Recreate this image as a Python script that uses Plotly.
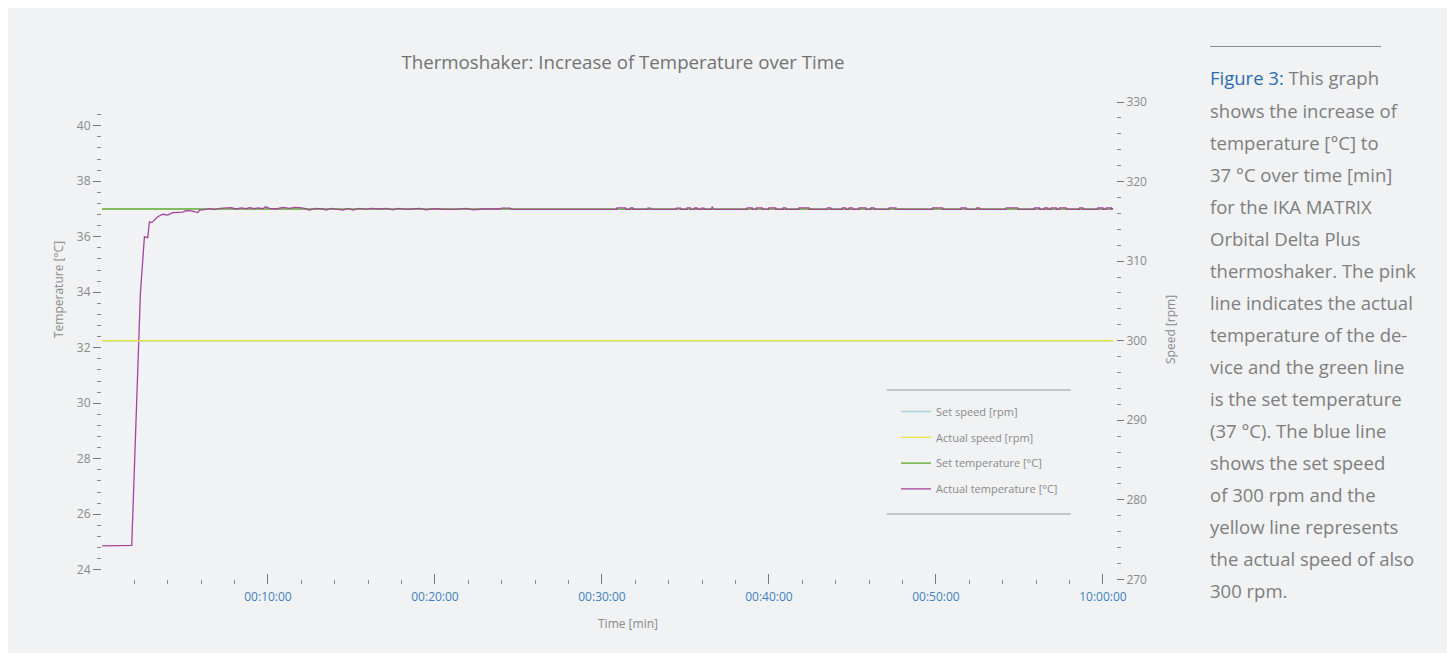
import plotly.graph_objects as go

# ---------------- data ----------------
time_ref = [0.0, 60.6]
set_speed = [300, 300]
actual_speed = [300, 300]
set_temp = [37.0, 37.0]

# actual temperature: warm-up phase
time_rise = [0.0, 1.84, 2.36, 2.6, 2.8, 2.9, 3.04, 3.4, 3.7, 4.0, 4.3, 4.9, 5.1, 5.4, 5.8,
             5.9, 6.2, 6.5, 6.8]
temp_rise = [24.86, 24.88, 33.97, 36.0, 35.97, 36.54, 36.51, 36.72, 36.81, 36.78, 36.87, 36.89,
             36.94, 36.93, 36.87, 36.96, 36.98, 37.01, 36.98]

# actual temperature: early plateau (small fluctuations)
time_early = [7.10, 7.79, 8.09, 8.39, 8.69, 8.89, 9.19, 9.39, 9.69, 9.85, 10.09, 10.49, 10.89,
              11.29, 11.59, 11.89, 12.19, 12.48, 12.88, 13.28, 13.48, 13.78, 14.08, 14.48,
              14.78, 15.08, 15.48, 15.88, 16.18, 16.68, 17.08, 17.47, 17.77, 18.27, 18.67,
              19.07, 19.47, 19.87, 20.67, 21.27, 21.87, 22.26, 22.86, 23.86, 24.0, 24.5, 24.6]
temp_early = [37.02, 37.05, 37.00, 37.04, 37.01, 37.05, 37.01, 37.04, 37.01, 37.08, 37.02, 37.00,
              37.06, 37.02, 37.06, 37.05, 37.02, 36.96, 37.02, 37.00, 36.96, 37.02, 37.00, 36.96,
              37.02, 36.96, 37.02, 36.99, 37.02, 37.00, 37.02, 36.97, 37.02, 36.99, 37.00,
              37.02, 36.97, 37.01, 36.99, 36.99, 37.02, 36.97, 37.00, 37.00, 37.03, 37.03, 36.99]

# actual temperature: late plateau (baseline with short upward steps)
time_late = [30.9, 30.9, 31.4, 31.4, 31.7, 31.7, 31.85, 31.85, 32.75, 32.75, 32.9, 32.9,
             34.45, 34.45, 34.7, 34.7, 35.1, 35.1, 35.3, 35.3, 35.55, 35.55, 35.7, 35.7,
             35.95, 35.95, 36.1, 36.1, 36.55, 36.6, 36.7, 38.7, 38.7, 39.0, 39.0, 39.25, 39.25,
             39.6, 39.6, 40.0, 40.0, 40.4, 40.4, 40.85, 40.85, 41.0, 41.0, 41.8, 41.8, 42.4, 42.4,
             43.5, 43.5, 43.7, 43.7, 44.4, 44.4, 44.6, 44.6, 44.8, 44.8, 45.0, 45.0, 45.4, 45.4,
             45.8, 45.8, 46.1, 46.1, 46.3, 46.3, 47.2, 47.2, 47.6, 47.6, 49.8, 49.8, 50.4, 50.4,
             51.5, 51.5, 51.8, 51.8, 52.45, 52.45, 52.6, 52.6, 54.2, 54.2, 54.9, 54.9, 55.9, 55.9,
             56.2, 56.2, 56.5, 56.5, 56.7, 56.7, 56.9, 56.9, 57.2, 57.2, 57.4, 57.4, 57.8, 57.8,
             58.6, 58.6, 58.8, 58.8, 59.7, 59.7, 60.0, 60.0, 60.2, 60.2, 60.5, 60.5, 60.6]
temp_late = [36.99, 37.04, 37.04, 36.99, 36.99, 37.04, 37.04, 36.99, 36.99, 37.03, 37.03, 36.99,
             36.99, 37.03, 37.03, 36.99, 36.99, 37.04, 37.04, 36.99, 36.99, 37.04, 37.04, 36.99,
             36.99, 37.03, 37.03, 36.99, 36.99, 37.08, 36.99, 36.99, 37.04, 37.04, 36.99, 36.99,
             37.04, 37.04, 36.99, 36.99, 37.04, 37.04, 36.99, 36.99, 37.04, 37.04, 36.99, 36.99,
             37.04, 37.04, 36.99, 36.99, 37.04, 37.04, 36.99, 36.99, 37.04, 37.04, 36.99, 36.99,
             37.04, 37.04, 36.99, 36.99, 37.04, 37.04, 36.99, 36.99, 37.04, 37.04, 36.99, 36.99,
             37.04, 37.04, 36.99, 36.99, 37.04, 37.04, 36.99, 36.99, 37.04, 37.04, 36.99, 36.99,
             37.04, 37.04, 36.99, 36.99, 37.04, 37.04, 36.99, 36.99, 37.04, 37.04, 36.99, 36.99,
             37.04, 37.04, 36.99, 36.99, 37.04, 37.04, 36.99, 36.99, 37.04, 37.04, 36.99, 36.99,
             37.04, 37.04, 36.99, 36.99, 37.04, 37.04, 36.99, 36.99, 37.04, 37.04, 36.99, 37.02]

time_actual = time_rise + time_early + time_late
temp_actual = temp_rise + temp_early + temp_late

x_tickvals = [10, 20, 30, 40, 50, 60]
x_ticktext = ["00:10:00", "00:20:00", "00:30:00", "00:40:00", "00:50:00", "10:00:00"]
temp_ticks = [24, 26, 28, 30, 32, 34, 36, 38, 40]
speed_ticks = [270, 280, 290, 300, 310, 320, 330]

caption_lines = [
    "<span style='color:#2b6cab'>Figure 3:</span> This graph",
    "shows the increase of",
    "temperature [°C] to",
    "37 °C over time [min]",
    "for the IKA MATRIX",
    "Orbital Delta Plus",
    "thermoshaker. The pink",
    "line indicates the actual",
    "temperature of the de-",
    "vice and the green line",
    "is the set temperature",
    "(37 °C). The blue line",
    "shows the set speed",
    "of 300 rpm and the",
    "yellow line represents",
    "the actual speed of also",
    "300 rpm.",
]

# ---------------- layout helpers (page pixel -> paper) ----------------
OFF = 8
W, H = 1439, 645
ML, MR, MT, MB = 94, 331, 94, 69
PW = W - ML - MR
PH = H - MT - MB


def px2x(px):
    return (px - OFF - ML) / PW


def px2y(py):
    return (H - MB - (py - OFF)) / PH


FONT = "Open Sans"
GREY = "#8a8a8a"
BG = "#f0f2f4"

fig = go.Figure()
fig.add_trace(go.Scatter(x=time_ref, y=set_speed, yaxis="y2", mode="lines", name="Set speed [rpm]",
                         line=dict(color="#a8d2de", width=1.5), legendgroup="a"))
fig.add_trace(go.Scatter(x=time_ref, y=actual_speed, yaxis="y2", mode="lines", name="Actual speed [rpm]",
                         line=dict(color="#e8e430", width=1.2), legendgroup="b"))
fig.add_trace(go.Scatter(x=time_ref, y=set_temp, mode="lines", name="Set temperature [°C]",
                         line=dict(color="#5eaa2c", width=1.3), legendgroup="c"))
fig.add_trace(go.Scatter(x=time_actual, y=temp_actual, mode="lines", name="Actual temperature [°C]",
                         line=dict(color="#a6449b", width=1.3), legendgroup="d"))

minor_temp = [round(24 + 0.4 * i, 1) for i in range(42)]
minor_speed = list(range(270, 331, 2))
minor_time = list(range(2, 60, 2))

annotations = [
    dict(text="Temperature [°C]", x=px2x(58), y=px2y(290), xref="paper", yref="paper",
         xanchor="center", yanchor="middle",
         textangle=-90, showarrow=False, font=dict(family=FONT, size=12, color=GREY)),
    dict(text="Speed [rpm]", x=px2x(1170), y=px2y(330), xref="paper", yref="paper",
         xanchor="center", yanchor="middle",
         textangle=-90, showarrow=False, font=dict(family=FONT, size=12, color=GREY)),
    dict(text="Time [min]", x=px2x(628), y=px2y(623), xref="paper", yref="paper",
         xanchor="center", yanchor="middle",
         showarrow=False, font=dict(family=FONT, size=12, color=GREY)),
]
for i, line in enumerate(caption_lines):
    annotations.append(dict(text=line, x=px2x(1208), y=px2y(78 + 32.05 * i), xref="paper", yref="paper",
                            xanchor="left", yanchor="middle", showarrow=False,
                            font=dict(family=FONT, size=18.5, color="#7e7e7e")))

shapes = [
    dict(type="line", xref="paper", yref="paper", x0=px2x(1210), x1=px2x(1381), y0=px2y(46.5), y1=px2y(46.5),
         line=dict(color="#8a8a8a", width=1)),
    dict(type="line", xref="paper", yref="paper", x0=px2x(887), x1=px2x(1071), y0=px2y(390), y1=px2y(390),
         line=dict(color="#9a9a9a", width=1)),
    dict(type="line", xref="paper", yref="paper", x0=px2x(887), x1=px2x(1071), y0=px2y(514), y1=px2y(514),
         line=dict(color="#9a9a9a", width=1)),
]

ydom0 = px2y(579.3)

fig.update_layout(
    width=W, height=H,
    margin=dict(l=ML, r=MR, t=MT, b=MB),
    paper_bgcolor=BG, plot_bgcolor=BG,
    font=dict(family=FONT, color=GREY, size=12),
    title=dict(text="Thermoshaker: Increase of Temperature over Time", x=px2x(623), xref="paper",
               xanchor="center", y=1 - (62 - OFF) / H, yref="container", yanchor="middle",
               font=dict(family=FONT, size=18.7, color="#727272")),
    xaxis=dict(range=[0.06, 60.78], anchor="free", position=0, showgrid=False, zeroline=False,
               showline=False, tickmode="array", tickvals=x_tickvals, ticktext=x_ticktext,
               ticks="inside", ticklen=10, tickwidth=1, tickcolor="#777777", ticklabelstandoff=4,
               tickfont=dict(family=FONT, size=12, color="#3f7fbf"),
               minor=dict(tickmode="array", tickvals=minor_time, ticks="inside", ticklen=4,
                          tickcolor="#8a8a8a", showgrid=False)),
    yaxis=dict(range=[23.656, 40.856], domain=[ydom0, 1], showgrid=False, zeroline=False, showline=False,
               tickmode="array", tickvals=temp_ticks, ticks="outside", ticklen=8, tickwidth=1,
               tickcolor="#777777", tickfont=dict(family=FONT, size=12, color=GREY),
               minor=dict(tickmode="array", tickvals=minor_temp, ticks="outside", ticklen=4,
                          tickcolor="#8a8a8a", showgrid=False)),
    yaxis2=dict(range=[270, 330], overlaying="y", side="right", anchor="x", showgrid=False,
                zeroline=False, showline=False, tickmode="array", tickvals=speed_ticks,
                ticks="outside", ticklen=7, tickwidth=1, tickcolor="#777777",
                tickfont=dict(family=FONT, size=12, color=GREY),
                minor=dict(tickmode="array", tickvals=minor_speed, ticks="outside", ticklen=4,
                           tickcolor="#8a8a8a", showgrid=False)),
    legend=dict(x=px2x(896), y=px2y(397), xanchor="left", yanchor="top", bgcolor="rgba(0,0,0,0)",
                font=dict(family=FONT, size=11, color=GREY), tracegroupgap=6.8, traceorder="grouped",
                itemclick=False),
    annotations=annotations,
    shapes=shapes,
    showlegend=True,
)

fig.write_html("out.html")
